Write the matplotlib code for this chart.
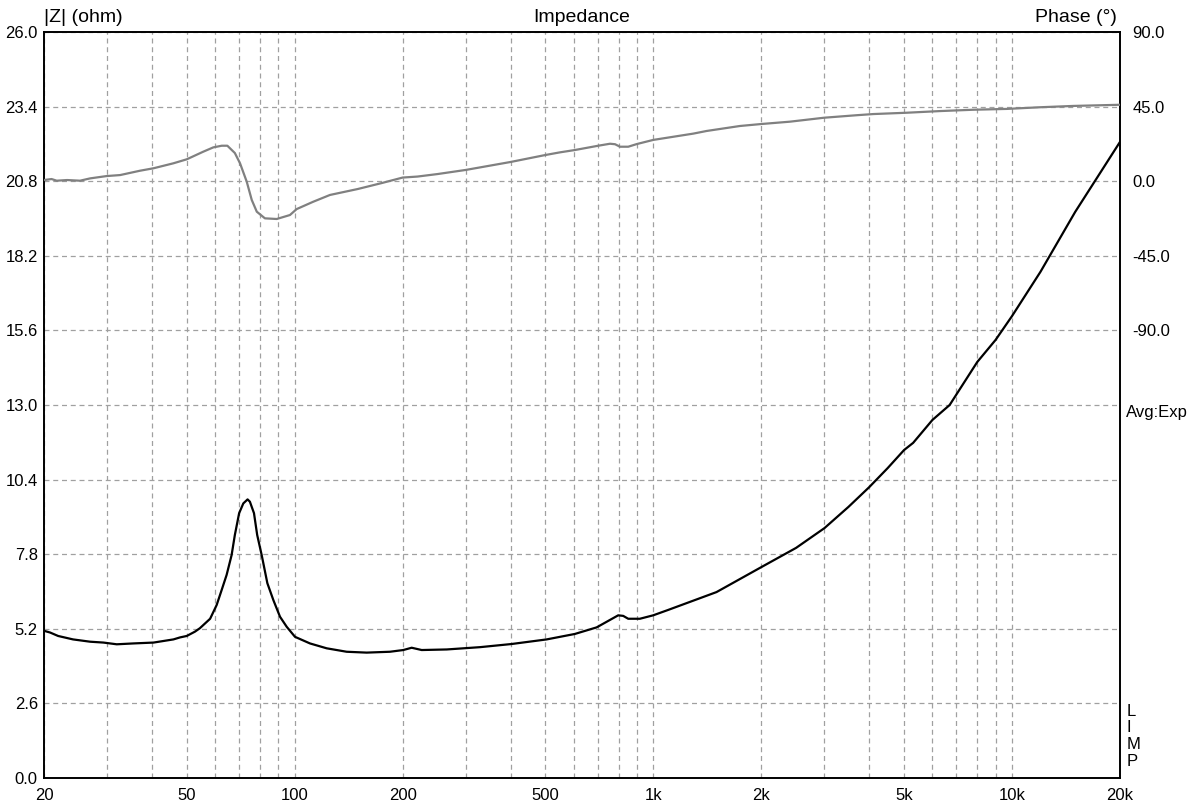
import matplotlib
matplotlib.use("Agg")
import matplotlib.pyplot as plt
from matplotlib.ticker import FixedLocator, FixedFormatter, NullFormatter

plt.rcParams['font.family'] = ['Liberation Sans', 'DejaVu Sans']

# ---- data ----
imp_freq = [20, 20.8, 21.9, 24.1, 26.9, 29.3, 31.9, 35.5, 40.4, 45.9, 47.9, 50.0,
            52.7, 54.4, 58.1, 60.6, 62.6, 64.6, 66.7, 68.1, 70.0, 71.9, 73.9, 75.0,
            77.0, 78.6, 80.9, 83.9, 87.2, 91.0, 95.0, 100.2, 110.3, 122.8, 139.6,
            158.7, 184.3, 200.8, 211.9, 226.0, 265.4, 328.6, 402.6, 504, 604, 695,
            757, 798, 824, 851, 917, 999, 1101, 1500, 2000, 2500, 3000, 3500, 4000,
            4500, 5000, 5300, 6000, 6700, 8000, 9000, 10000, 12000, 15000, 20000]
imp_ohm = [5.13, 5.07, 4.95, 4.83, 4.75, 4.72, 4.66, 4.69, 4.72, 4.83, 4.90, 4.95,
           5.10, 5.22, 5.55, 6.03, 6.56, 7.08, 7.77, 8.47, 9.23, 9.57, 9.71, 9.63,
           9.23, 8.47, 7.77, 6.79, 6.20, 5.62, 5.27, 4.92, 4.69, 4.52, 4.40,
           4.37, 4.40, 4.46, 4.54, 4.46, 4.48, 4.56, 4.67, 4.83, 5.02, 5.25,
           5.51, 5.67, 5.65, 5.55, 5.55, 5.67, 5.86, 6.48, 7.35, 8.02, 8.71, 9.45, 10.14,
           10.80, 11.43, 11.68, 12.48, 13.0, 14.5, 15.27, 16.1, 17.64, 19.73, 22.17]

ph_freq = [20, 21.0, 21.7, 23.2, 25.2, 26.9, 29.9, 32.6, 37.0, 40.4, 45.9, 50.0,
           55.6, 59.3, 62.6, 64.9, 68.1, 70.4, 73.5, 75.9, 78.4, 82.6, 89.1, 97.0,
           101.3, 112.6, 125.4, 150, 175, 200, 220, 250, 300, 400, 500, 549, 604,
           702, 757, 782, 807, 851, 899, 999, 1136, 1292, 1408, 1743, 2001, 2402,
           2995, 3688, 4102, 5084, 6296, 7792, 9657, 11958, 14812, 20000]
ph_deg = [0.7, 1.3, 0.3, 0.7, 0.3, 1.7, 3.1, 3.7, 6.3, 7.8, 10.8, 13.2,
          17.8, 20.4, 21.4, 21.4, 17.0, 10.8, -0.3, -11.3, -18.4, -22.4, -22.8, -20.4,
          -16.8, -12.4, -8.3, -4.7, -1.1, 2.2, 2.8, 4.3, 6.8, 11.6, 15.8, 17.4, 18.8,
          21.4, 22.6, 22.3, 20.8, 20.8, 22.4, 24.9, 26.8, 28.7, 30.3, 33.3, 34.5, 35.9,
          38.3, 39.8, 40.5, 41.3, 42.3, 43.1, 43.6, 44.6, 45.4, 46.1]

x_tick_vals = [20, 50, 100, 200, 500, 1000, 2000, 5000, 10000, 20000]
x_tick_labels = ["20", "50", "100", "200", "500", "1k", "2k", "5k", "10k", "20k"]
y_tick_vals = [0.0, 2.6, 5.2, 7.8, 10.4, 13.0, 15.6, 18.2, 20.8, 23.4, 26.0]
ph_tick_vals = [90, 45, 0, -45, -90]

# ---- figure ----
W, H = 1190, 809
fig = plt.figure(figsize=(W / 100, H / 100), dpi=100)
L, R, T, B = 44, 1120, 32, 778
ax = fig.add_axes([L / W, 1 - B / H, (R - L) / W, (B - T) / H])

ax.set_xscale('log')
ax.set_xlim(20, 20000)
ax.set_ylim(0, 26)

grid_x = [m * 10 ** e for e in range(1, 5) for m in range(1, 10)
          if 20 <= m * 10 ** e <= 20000]
ax.xaxis.set_major_locator(FixedLocator(x_tick_vals))
ax.xaxis.set_major_formatter(FixedFormatter(x_tick_labels))
ax.xaxis.set_minor_locator(FixedLocator(grid_x))
ax.xaxis.set_minor_formatter(NullFormatter())
ax.set_yticks(y_tick_vals)
ax.set_yticklabels([f"{v:.1f}" for v in y_tick_vals])

gkw = dict(color='#a0a0a0', linestyle=(0, (4, 3)), linewidth=0.9)
ax.grid(True, which='both', axis='x', **gkw)
ax.grid(True, which='major', axis='y', **gkw)
ax.set_axisbelow(True)

ax.tick_params(which='both', length=0)
ax.tick_params(axis='y', pad=4.5, labelsize=12)
ax.tick_params(axis='x', pad=7.5, labelsize=12)
for s in ax.spines.values():
    s.set_linewidth(1.4)
    s.set_color('black')

ax.plot(imp_freq, imp_ohm, color='black', linewidth=1.6, zorder=3)

ax2 = ax.twinx()
ax2.set_ylim(-360, 90)
ax2.set_yticks(ph_tick_vals)
ax2.set_yticklabels([f"{v:.1f}" for v in ph_tick_vals])
ax2.tick_params(length=0, pad=9, labelsize=12)
for s in ax2.spines.values():
    s.set_visible(False)
ax2.plot(ph_freq, ph_deg, color='#808080', linewidth=1.6, zorder=3)

# ---- texts ----
fig.text(L / W, 1 - 17 / H, "|Z| (ohm)", ha='left', va='center', fontsize=14)
fig.text((L + R) / 2 / W, 1 - 17 / H, "Impedance", ha='center', va='center', fontsize=14)
fig.text(1117 / W, 1 - 17 / H, "Phase (°)", ha='right', va='center', fontsize=14)
fig.text(1126 / W, 1 - 413 / H, "Avg:Exp", ha='left', va='center', fontsize=12)
for i, ch in enumerate("LIMP"):
    fig.text(1127 / W, 1 - (711.5 + 16.5 * i) / H, ch, ha='left', va='center', fontsize=12)

fig.savefig("out.png", dpi=100)
